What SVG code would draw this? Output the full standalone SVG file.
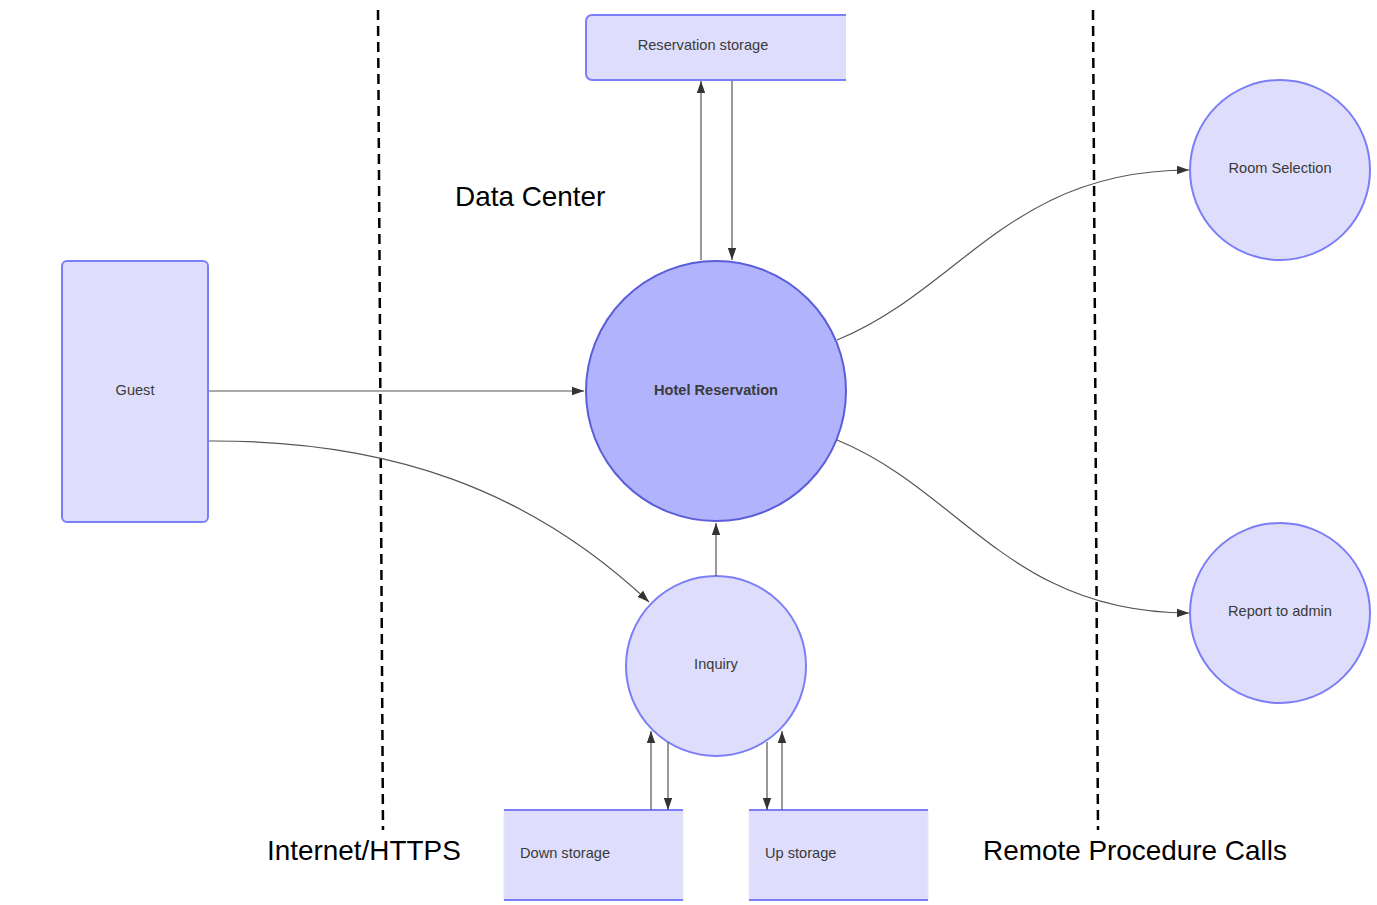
<svg xmlns="http://www.w3.org/2000/svg" width="1377" height="905" viewBox="0 0 1377 905">
<style>
.lt{fill:#dedefc;stroke:#7b7ef6;stroke-width:2}
.fill{fill:#dedefc;stroke:none}
.bd{fill:none;stroke:#7b7ef6;stroke-width:2}
.hot{fill:#b1b3fc;stroke:#5a5ed8;stroke-width:2}
.lbl{font-family:"Liberation Sans",Arial,sans-serif;font-size:14.6px;fill:#3a3a3a}
.big{font-family:"Liberation Sans",Arial,sans-serif;font-size:27.9px;fill:#000}
.cn{fill:none;stroke:#555;stroke-width:1.2;marker-end:url(#ah)}
.dash{fill:none;stroke:#000;stroke-width:2.5;stroke-dasharray:10,6}
</style>
<defs>
<marker id="ah" viewBox="0 0 10 10" refX="10" refY="5" markerWidth="12" markerHeight="12" markerUnits="userSpaceOnUse" orient="auto">
<path d="M0,1.5 L10,5 L0,8.5 z" fill="#333"/>
</marker>
</defs>
<rect width="1377" height="905" fill="#fff"/>

<g id="boundaries">
<line class="dash" x1="378" y1="10" x2="383" y2="830"/>
<line class="dash" x1="1093" y1="10" x2="1098" y2="830"/>
<text class="big" x="455" y="206">Data Center</text>
<text class="big" x="267" y="860">Internet/HTTPS</text>
<text class="big" x="983" y="860">Remote Procedure Calls</text>
</g>

<g id="reservation-storage">
<path class="fill" d="M592,15 H846 V80 H592 A6,6 0 0 1 586,74 V21 A6,6 0 0 1 592,15 z"/>
<path class="bd" d="M846,15 H592 A6,6 0 0 0 586,21 V74 A6,6 0 0 0 592,80 H846"/>
<text class="lbl" x="703" y="50" text-anchor="middle">Reservation storage</text>
</g>

<g id="guest">
<rect class="lt" x="62" y="261" width="146" height="261" rx="5"/>
<text class="lbl" x="135" y="395" text-anchor="middle">Guest</text>
</g>

<g id="hotel-reservation">
<circle class="hot" cx="716" cy="391" r="130"/>
<text class="lbl" x="716" y="395" text-anchor="middle" font-weight="bold">Hotel Reservation</text>
</g>

<g id="inquiry">
<circle class="lt" cx="716" cy="666" r="90"/>
<text class="lbl" x="716" y="669" text-anchor="middle">Inquiry</text>
</g>

<g id="room-selection">
<circle class="lt" cx="1280" cy="170" r="90"/>
<text class="lbl" x="1280" y="173" text-anchor="middle">Room Selection</text>
</g>

<g id="report-to-admin">
<circle class="lt" cx="1280" cy="613" r="90"/>
<text class="lbl" x="1280" y="616" text-anchor="middle">Report to admin</text>
</g>

<g id="down-storage">
<rect class="fill" x="504" y="810" width="179" height="90"/>
<line x1="504" y1="810" x2="504" y2="900" stroke="#e6e6fb" stroke-width="1"/>
<line x1="683" y1="810" x2="683" y2="900" stroke="#e6e6fb" stroke-width="1"/>
<line class="bd" x1="504" y1="810" x2="683" y2="810"/>
<line class="bd" x1="504" y1="900" x2="683" y2="900"/>
<text class="lbl" x="520" y="858">Down storage</text>
</g>

<g id="up-storage">
<rect class="fill" x="749" y="810" width="179" height="90"/>
<line x1="749" y1="810" x2="749" y2="900" stroke="#e6e6fb" stroke-width="1"/>
<line x1="928" y1="810" x2="928" y2="900" stroke="#e6e6fb" stroke-width="1"/>
<line class="bd" x1="749" y1="810" x2="928" y2="810"/>
<line class="bd" x1="749" y1="900" x2="928" y2="900"/>
<text class="lbl" x="765" y="858">Up storage</text>
</g>

<g id="connectors">
<path class="cn" d="M209,391 H584"/>
<path class="cn" d="M209,441 C390,440 530,490 649,602"/>
<path class="cn" d="M716,576 V523"/>
<path class="cn" d="M701,260 V81"/>
<path class="cn" d="M732,81 V260"/>
<path class="cn" d="M837,340 C960,290 1010,170 1189,170"/>
<path class="cn" d="M837,440 C960,490 1010,613 1189,613"/>
<path class="cn" d="M651,810 V731"/>
<path class="cn" d="M668,742 V810"/>
<path class="cn" d="M767,742 V810"/>
<path class="cn" d="M782,810 V731"/>
</g>
</svg>
